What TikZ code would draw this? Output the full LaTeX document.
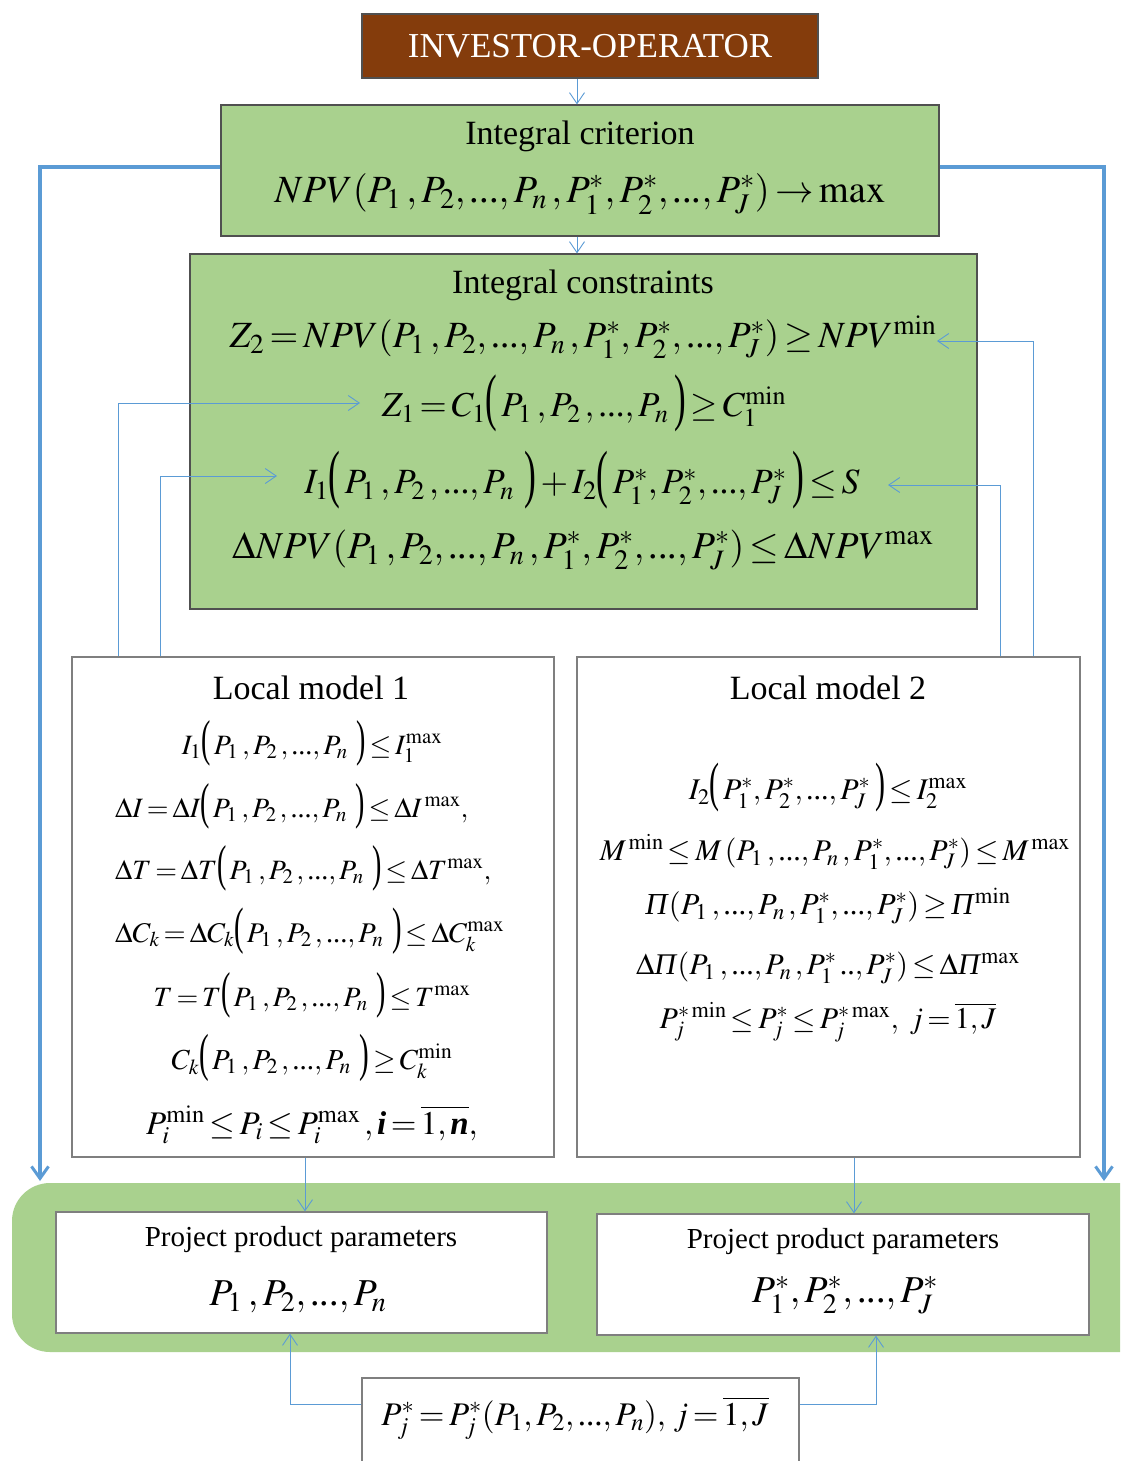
\documentclass[tikz,border=0pt]{standalone}
\usepackage{mathptmx}
\usepackage{graphicx}
\usepackage{fontspec}
\setmainfont{Liberation Serif}
\usetikzlibrary{arrows.meta,calc}
\definecolor{brownbox}{HTML}{843C0C}
\definecolor{greenbox}{HTML}{A9D18E}
\definecolor{bluel}{HTML}{5B9BD5}
\definecolor{edgegray}{HTML}{505050}
\definecolor{edgelight}{HTML}{7F7F7F}
\newcommand{\dts}{\mbox{...}}
\newcommand{\LP}{\mathopen{\raisebox{-0.04em}{\scalebox{1}[1.8]{(}}}\mkern2mu}
\newcommand{\RP}{\mkern3mu\mathclose{\raisebox{-0.04em}{\scalebox{1}[1.8]{)}}}}
\newcommand{\iPi}{\mbox{\textit{Π}}}
\thickmuskip=2.5mu plus 1mu
\medmuskip=2mu plus 1mu
\begin{document}
\begin{tikzpicture}[x=1pt,y=-1pt,
  fz/.style={font=\fontsize{#1}{#1}\selectfont},
  boxg/.style={draw=edgegray,line width=1.2pt,fill=greenbox,inner sep=0pt},
  boxw/.style={draw=edgelight,line width=1.2pt,fill=white,inner sep=0pt},
  txt/.style={inner sep=0pt},
  thinarr/.style={draw=bluel,line width=0.9pt,-{Straight Barb[length=11pt,width=15pt,line width=0.9pt]}},
  thickarr/.style={draw=bluel,line width=3.5pt,-{Straight Barb[length=12pt,width=17pt,line width=3pt]}}]
\clip (0,0) rectangle (1120,1461);
\fill[white] (0,0) rectangle (1120,1461);
% band
\node[fill=greenbox,rounded corners=38pt,minimum width=1200pt,minimum height=169pt,inner sep=0pt] (band) at (612,1267.5) {};
% boxes
\node[draw=edgegray,line width=1.2pt,fill=brownbox,minimum width=456pt,minimum height=64pt,inner sep=0pt,text=white,fz=35] (inv) at (590,46) {INVESTOR-OPERATOR};
\node[boxg,minimum width=718pt,minimum height=131pt] (crit) at (580,170.5) {};
\node[boxg,minimum width=787pt,minimum height=355pt] (cons) at (583.5,431.5) {};
\node[boxw,minimum width=482pt,minimum height=500pt] (lm1) at (313,907) {};
\node[boxw,minimum width=503pt,minimum height=500pt] (lm2) at (828.5,907) {};
\node[boxw,minimum width=491pt,minimum height=121pt] (pp1) at (301.5,1272.5) {};
\node[boxw,minimum width=492pt,minimum height=121pt] (pp2) at (843,1274.5) {};
\node[boxw,minimum width=437pt,minimum height=92pt] (bot) at (580.5,1424) {};
% texts: criterion
\node[txt,fz=34] (critt) at (580,136) {Integral criterion};
\node[txt,fz=38.5] (critf) at (580,194) {$NPV(P_1\;,P_2,\dts,P_n\,,P_1^*,P_2^*,\dts,P_J^*)\rightarrow\mathrm{max}$};
% constraints
\node[txt,fz=34] (const) at (583,285) {Integral constraints};
\node[txt,fz=37] (z2) at (583,337) {$Z_2=NPV(P_1\;,P_2,\dts,P_n\,,P_1^*,P_2^*,\dts,P_J^*)\ge NPV^{\mathrm{min}}$};
\node[txt,fz=35] (z1) at (584,403) {$Z_1=C_1\LP P_1\;,P_2\,,\dts,P_n\RP\ge C_1^{\mathrm{min}}$};
\node[txt,fz=35.5] (ii) at (582,480) {$I_1\LP P_1\;,P_2\,,\dts,P_n\;\RP+I_2\LP P_1^*,P_2^*,\dts,P_J^*\RP\le S$};
\node[txt,fz=38] (dnpv) at (583,550) {$\Delta NPV(P_1\;,P_2,\dts,P_n\,,P_1^*,P_2^*,\dts,P_J^*)\le\Delta NPV^{\mathrm{max}}$};
% local model 1
\node[txt,fz=34] (lm1t) at (311,688) {Local model 1};
\node[txt,fz=28] (a1) at (312,743) {$I_1\LP P_1\;,P_2\,,\dts,P_n\;\RP\le I_1^{\mathrm{max}}$};
\node[txt,fz=28,anchor=west] (a2) at (115,806) {$\Delta I=\Delta I\LP P_1\;,P_2\,,\dts,P_n\;\RP\le\Delta I^{\,\mathrm{max}},$};
\node[txt,fz=28,anchor=west] (a3) at (115,868) {$\Delta T=\Delta T\LP P_1\;,P_2\,,\dts,P_n\;\RP\le\Delta T^{\mathrm{max}},$};
\node[txt,fz=28.5,anchor=west] (a4) at (115,931) {$\Delta C_k=\Delta C_k\LP P_1\;,P_2\,,\dts,P_n\;\RP\le\Delta C_k^{\mathrm{max}}$};
\node[txt,fz=28] (a5) at (312,995) {$T=T\LP P_1\;,P_2\,,\dts,P_n\;\RP\le T^{\mathrm{max}}$};
\node[txt,fz=29] (a6) at (312,1058) {$C_k\LP P_1\;,P_2\,,\dts,P_n\;\RP\ge C_k^{\mathrm{min}}$};
\node[txt,fz=33] (a7) at (312,1125) {$P_i^{\mathrm{min}}\le P_i\le P_i^{\mathrm{max}}\,,\textbf{\textit{i}}=\overline{1,\textbf{\textit{n}}},$};
% local model 2
\node[txt,fz=34] (lm2t) at (828,688) {Local model 2};
\node[txt,fz=30] (b1) at (828,788) {$I_2\LP P_1^*,P_2^*,\dts,P_J^*\RP\le I_2^{\mathrm{max}}$};
\node[txt,fz=30] (b2) at (835,852) {$M^{\,\mathrm{min}}\le M\,(P_1\;,\dts,P_n\,,P_1^*,\dts,P_J^*)\le M^{\,\mathrm{max}}$};
\node[txt,fz=30.5] (b3) at (828,906) {$\iPi(P_1\;,\dts,P_n\,,P_1^*,\dts,P_J^*)\ge\iPi^{\mathrm{min}}$};
\node[txt,fz=30] (b4) at (828,968) {$\Delta\iPi(P_1\;,\dts,P_n\,,P_1^*\,\mbox{..},P_J^*)\le\Delta\iPi^{\mathrm{max}}$};
\node[txt,fz=30] (b5) at (828,1022) {$P_j^{*\,\mathrm{min}}\le P_j^*\le P_j^{*\,\mathrm{max}},\ j=\overline{1,J}$};
% project boxes
\node[txt,fz=29] (pp1t) at (301,1240) {Project product parameters};
\node[txt,fz=38] (pp1f) at (298,1297) {$P_1\;,P_2,\dts,P_n$};
\node[txt,fz=29] (pp2t) at (843,1242) {Project product parameters};
\node[txt,fz=38] (pp2f) at (845,1295) {$P_1^*,P_2^*,\dts,P_J^*$};
\node[txt,fz=33] (botf) at (575,1418) {$P_j^*=P_j^*(P_1,P_2,\dts,P_n),\,j=\overline{1,J}$};
% coordinates
\coordinate (cx) at (577,0);
\coordinate (c1) at (305,0);
\coordinate (c2) at (854,0);
\coordinate (cb1) at (290,0);
\coordinate (cb2) at (876,0);
\coordinate (by) at (0,1404);
\coordinate (ly) at (0,167);
\coordinate (lend) at (40,1181);
\coordinate (rend) at (1104,1181);
\coordinate (fa) at (118,0);
\coordinate (fb) at (160,0);
\coordinate (fc) at (1000,0);
\coordinate (fd) at (1033,0);
\coordinate (za) at (360,403);
\coordinate (zb) at (277,476);
\coordinate (zc) at (888,485);
\coordinate (zd) at (937,341);
% connectors
\draw[thinarr] (inv.south -| cx) -- (crit.north -| cx);
\draw[thinarr] (crit.south -| cx) -- (cons.north -| cx);
\draw[thickarr] (crit.west |- ly) -| (lend);
\draw[thickarr] (crit.east |- ly) -| (rend);
\draw[thinarr] (lm1.south -| c1) -- (pp1.north -| c1);
\draw[thinarr] (lm2.south -| c2) -- (pp2.north -| c2);
\draw[thinarr] (bot.west |- by) -| (pp1.south -| cb1);
\draw[thinarr] (bot.east |- by) -| (pp2.south -| cb2);
\draw[thinarr] (lm1.north -| fa) |- (za);
\draw[thinarr] (lm1.north -| fb) |- (zb);
\draw[thinarr] (lm2.north -| fc) |- (zc);
\draw[thinarr] (lm2.north -| fd) |- (zd);
\end{tikzpicture}
\end{document}
